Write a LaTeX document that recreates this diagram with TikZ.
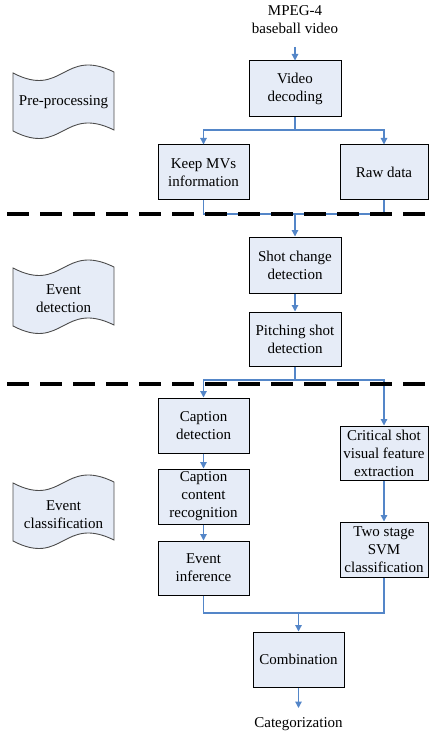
\documentclass[tikz,border=0pt]{standalone}
\usepackage{fontspec}
\setmainfont{Liberation Serif}
\usetikzlibrary{arrows.meta}
\definecolor{boxfill}{RGB}{230,236,247}
\definecolor{conn}{RGB}{84,134,200}
\newcommand\bannerat[2]{%
  \draw[bann] (#1,#2) .. controls (#1+50,#2+26) and (#1+50,#2-26) .. (#1+101,#2-1)
    -- (#1+101,#2+57) .. controls (#1+50,#2+32) and (#1+50,#2+84) .. (#1,#2+58) -- cycle;}
\begin{document}
\begin{tikzpicture}[x=1pt,y=-1pt,
  txt/.style={font=\fontsize{15}{18}\selectfont, align=center, inner sep=0pt},
  box/.style={txt, draw=black, line width=1pt, fill=boxfill},
  bann/.style={draw=black!70, line width=0.9pt, fill=boxfill},
  arr/.style={draw=conn, line width=1.2pt, -{Triangle[length=6.5pt,width=6.5pt]}},
  ln/.style={draw=conn, line width=1.2pt},
  sep/.style={line width=3.6pt, dash pattern=on 22pt off 11pt}]
\useasboundingbox (0,0) rectangle (429,735);

% banners
\bannerat{13}{73}
\node[txt] (bpre) at (63.5,102) {Pre-processing};
\bannerat{13}{268}
\node[txt] (bdet) at (63.5,299) {Event\\detection};
\bannerat{13}{483}
\node[txt] (bcls) at (63.5,515) {Event\\classification};

% boxes
\node[txt] (in) at (295,20) {MPEG-4\\baseball video};
\coordinate (inA) at (295,47);
\node[box, minimum width=92, minimum height=56] (vd) at (295,89) {Video\\decoding};
\node[box, minimum width=91, minimum height=55] (km) at (203.5,172.5) {Keep MVs\\information};
\node[box, minimum width=88, minimum height=55] (rd) at (384,172.5) {Raw data};
\node[box, minimum width=92, minimum height=56] (sc) at (295,265) {Shot change\\detection};
\node[box, minimum width=92, minimum height=54] (ps) at (295,339) {Pitching shot\\detection};
\node[box, minimum width=91, minimum height=55] (cd) at (203.5,425.5) {Caption\\detection};
\node[box, minimum width=91, minimum height=55] (ccr) at (203.5,496.5) {Caption\\content\\recognition};
\node[box, minimum width=91, minimum height=54] (ei) at (203.5,568) {Event\\inference};
\node[box, minimum width=88, minimum height=54] (cs) at (384,453) {Critical shot\\visual feature\\extraction};
\node[box, minimum width=88, minimum height=55] (ts) at (384,549.5) {Two stage\\SVM\\classification};
\node[box, minimum width=91, minimum height=55] (cb) at (298.5,659.5) {Combination};
\coordinate (outA) at (298.5,708);
\node[txt] (out) at (298.5,724) {Categorization};

% junctions
\coordinate (j0) at (295,130);
\coordinate (j1) at (295,214);
\coordinate (j2) at (295,380);
\coordinate (j3) at (298.5,613);

% connectors
\draw[arr] (inA) -- (vd.north);
\draw[ln] (vd.south) -- (j0);
\draw[arr] (j0) -| (km.north);
\draw[arr] (j0) -| (rd.north);
\draw[ln] (km.south) |- (j1);
\draw[ln] (rd.south) |- (j1);
\draw[arr] (j1) -- (sc.north);
\draw[arr] (sc.south) -- (ps.north);
\draw[ln] (ps.south) -- (j2);
\draw[arr] (j2) -| (cd.north);
\draw[arr] (j2) -| (cs.north);
\draw[arr] (cd.south) -- (ccr.north);
\draw[arr] (ccr.south) -- (ei.north);
\draw[arr] (cs.south) -- (ts.north);
\draw[ln] (ei.south) |- (j3);
\draw[ln] (ts.south) |- (j3);
\draw[arr] (j3) -- (cb.north);
\draw[arr] (cb.south) -- (outA);

% separators
\coordinate (s1a) at (7,214); \coordinate (s1b) at (429,214);
\coordinate (s2a) at (7,384); \coordinate (s2b) at (429,384);
\draw[sep] (s1a) -- (s1b);
\draw[sep] (s2a) -- (s2b);
\end{tikzpicture}
\end{document}
